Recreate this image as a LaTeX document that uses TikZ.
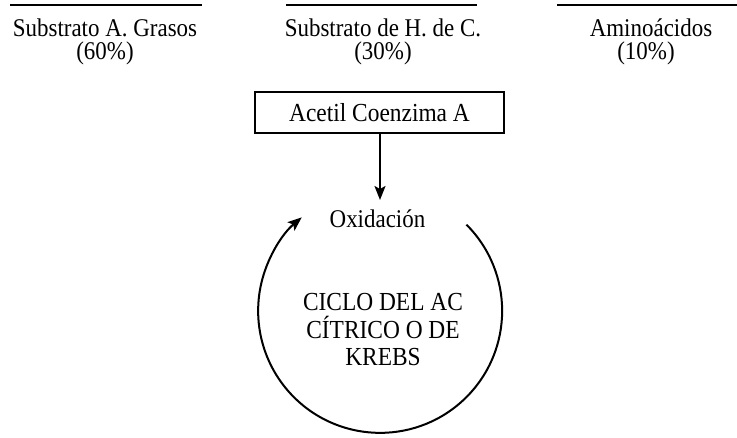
\documentclass[tikz,border=0pt]{standalone}
\usepackage{fontspec}
\setmainfont{Liberation Serif}[FakeStretch=0.9]
\usetikzlibrary{arrows.meta}
\begin{document}
\begin{tikzpicture}[x=1pt,y=-1pt,
  lbl/.style={font=\fontsize{25.5}{28}\selectfont, inner sep=0pt, anchor=base},
  bar/.style={line width=2.8pt},
  thin line/.style={line width=2pt},
  arr/.style={-{Stealth[length=14pt,width=11pt,inset=3pt]}, line width=2pt}]
\useasboundingbox (0,0) rectangle (737,437);
\fill[white] (0,0) rectangle (737,437);
% top bars
\coordinate (b1s) at (10,5);  \coordinate (b1e) at (202,5);
\coordinate (b2s) at (286,5); \coordinate (b2e) at (477,5);
\coordinate (b3s) at (557,5); \coordinate (b3e) at (737,5);
\draw[bar] (b1s) -- (b1e);
\draw[bar] (b2s) -- (b2e);
\draw[bar] (b3s) -- (b3e);
% top labels
\node[lbl] (s1) at (105,36) {Substrato A. Grasos};
\node[lbl] (p1) at (105,59) {(60\%)};
\node[lbl] (s2) at (383,36) {Substrato de H. de C.};
\node[lbl] (p2) at (383,59) {(30\%)};
\node[lbl] (s3) at (651,36) {Aminoácidos};
\node[lbl] (p3) at (646,59) {(10\%)};
% box
\node[draw, thin line, minimum width=249pt, minimum height=41pt, inner sep=0pt,
      font=\fontsize{26}{28}\selectfont] (acetil) at (379.5,112.5) {Acetil Coenzima A};
\coordinate (oxtop) at (380,200);
\draw[arr] (acetil.south -| oxtop) -- (oxtop);
\node[lbl] (oxi) at (377.5,227) {Oxidación};
% cycle
\node[circle, minimum size=244pt, inner sep=0pt] (ciclo) at (380,311) {};
\draw[arr] (ciclo.45) arc[start angle=45, end angle=-230, radius=122pt];
\node[align=center, inner sep=0pt, font=\fontsize{26}{27.5}\selectfont] (ciclotxt) at (383,330)
  {CICLO DEL AC\\CÍTRICO O DE\\KREBS};
\end{tikzpicture}
\end{document}
